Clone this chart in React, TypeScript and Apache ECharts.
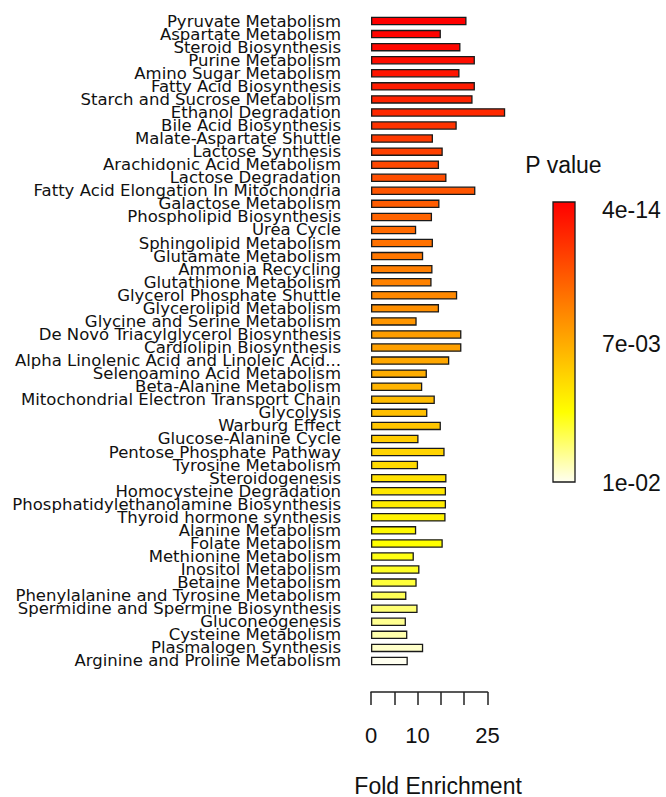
import React, { useEffect, useRef } from 'react';
import * as echarts from 'echarts';

const CATEGORIES = [
  'Pyruvate Metabolism',
  'Aspartate Metabolism',
  'Steroid Biosynthesis',
  'Purine Metabolism',
  'Amino Sugar Metabolism',
  'Fatty Acid Biosynthesis',
  'Starch and Sucrose Metabolism',
  'Ethanol Degradation',
  'Bile Acid Biosynthesis',
  'Malate-Aspartate Shuttle',
  'Lactose Synthesis',
  'Arachidonic Acid Metabolism',
  'Lactose Degradation',
  'Fatty Acid Elongation In Mitochondria',
  'Galactose Metabolism',
  'Phospholipid Biosynthesis',
  'Urea Cycle',
  'Sphingolipid Metabolism',
  'Glutamate Metabolism',
  'Ammonia Recycling',
  'Glutathione Metabolism',
  'Glycerol Phosphate Shuttle',
  'Glycerolipid Metabolism',
  'Glycine and Serine Metabolism',
  'De Novo Triacylglycerol Biosynthesis',
  'Cardiolipin Biosynthesis',
  'Alpha Linolenic Acid and Linoleic Acid...',
  'Selenoamino Acid Metabolism',
  'Beta-Alanine Metabolism',
  'Mitochondrial Electron Transport Chain',
  'Glycolysis',
  'Warburg Effect',
  'Glucose-Alanine Cycle',
  'Pentose Phosphate Pathway',
  'Tyrosine Metabolism',
  'Steroidogenesis',
  'Homocysteine Degradation',
  'Phosphatidylethanolamine Biosynthesis',
  'Thyroid hormone synthesis',
  'Alanine Metabolism',
  'Folate Metabolism',
  'Methionine Metabolism',
  'Inositol Metabolism',
  'Betaine Metabolism',
  'Phenylalanine and Tyrosine Metabolism',
  'Spermidine and Spermine Biosynthesis',
  'Gluconeogenesis',
  'Cysteine Metabolism',
  'Plasmalogen Synthesis',
  'Arginine and Proline Metabolism',
];

const FOLD_ENRICHMENT = [
  20.5, 15.0, 19.2, 22.3, 19.0, 22.3, 21.8, 28.8, 18.4, 13.3,
  15.4, 14.6, 16.2, 22.4, 14.7, 13.1, 9.7, 13.3, 11.2, 13.2,
  13.0, 18.5, 14.6, 9.8, 19.4, 19.4, 16.8, 12.0, 11.0, 13.7,
  12.1, 15.0, 10.2, 15.8, 10.1, 16.2, 16.1, 16.1, 16.0, 9.7,
  15.4, 9.2, 10.4, 9.8, 7.6, 10.0, 7.5, 7.8, 11.2, 7.9,
];

const P_VALUES = [
  4e-14, 1e-4, 2e-4, 4e-4, 6e-4, 8e-4, 1.0e-3, 1.2e-3, 1.5e-3, 1.7e-3,
  1.9e-3, 2.1e-3, 2.3e-3, 2.5e-3, 2.7e-3, 2.9e-3, 3.1e-3, 3.3e-3, 3.5e-3, 3.7e-3,
  3.8e-3, 4.0e-3, 4.2e-3, 4.4e-3, 4.6e-3, 4.7e-3, 4.9e-3, 5.1e-3, 5.3e-3, 5.5e-3,
  5.6e-3, 5.8e-3, 6.0e-3, 6.2e-3, 6.4e-3, 6.6e-3, 6.8e-3, 6.9e-3, 7.1e-3, 7.3e-3,
  7.5e-3, 7.7e-3, 7.9e-3, 8.1e-3, 8.4e-3, 8.7e-3, 9.0e-3, 9.3e-3, 9.6e-3, 1.0e-2,
];

const X_TICK_LABELS = ['0', '10', '25'];
const LEGEND_TITLE = 'P value';
const LEGEND_LABELS = ['4e-14', '7e-03', '1e-02'];
const P_MIN = 4e-14;
const P_MAX = 1e-2;
const HEAT_COLORS = [
  '#FF0000', '#FF2A00', '#FF5500', '#FF8000', '#FFAA00',
  '#FFD500', '#FFFF00', '#FFFF78', '#FFFFF0',
];

export default function App() {
  const ref = useRef<HTMLDivElement>(null);

  useEffect(() => {
    document.body.style.margin = '0';
    const chart = echarts.init(ref.current as HTMLDivElement, null, { renderer: 'svg' });
    const data = CATEGORIES.map((c, i) => [FOLD_ENRICHMENT[i], c, P_VALUES[i]]);
    const textColor = '#111';

    const option: any = {
      animation: false,
      textStyle: { fontFamily: 'Liberation Sans, Arial, sans-serif' },
      grid: [
        { left: 371, top: 14.5, width: 134.2, height: 653, outerBoundsMode: 'none', containLabel: false },
        { left: 371, top: 691, width: 116.5, height: 1, outerBoundsMode: 'none', containLabel: false },
      ],
      xAxis: [
        {
          gridIndex: 0,
          type: 'value',
          min: 0,
          max: 'dataMax',
          axisLine: { show: false },
          axisTick: { show: false },
          axisLabel: { show: false },
          splitLine: { show: false },
          name: 'Fold Enrichment',
          nameLocation: 'middle',
          nameGap: 107,
          nameTextStyle: { fontSize: 23, color: textColor },
        },
        {
          gridIndex: 1,
          type: 'value',
          min: 0,
          max: 25,
          interval: 5,
          axisLine: { lineStyle: { color: '#222', width: 1.5 } },
          axisTick: { length: 13, lineStyle: { color: '#222', width: 1.5 } },
          axisLabel: {
            fontSize: 22,
            color: textColor,
            margin: 32,
            formatter: (v: number) => (X_TICK_LABELS.includes(String(v)) ? String(v) : ''),
          },
          splitLine: { show: false },
        },
      ],
      yAxis: [
        {
          gridIndex: 0,
          type: 'category',
          data: CATEGORIES,
          inverse: true,
          axisLine: { show: false },
          axisTick: { show: false },
          axisLabel: {
            interval: 0,
            margin: 30,
            fontSize: 16.5,
            fontFamily: 'DejaVu Sans',
            color: textColor,
          },
        },
        { gridIndex: 1, type: 'value', show: false, min: 0, max: 1 },
      ],
      visualMap: {
        show: false,
        type: 'continuous',
        min: P_MIN,
        max: P_MAX,
        dimension: 2,
        seriesIndex: 0,
        inRange: { color: HEAT_COLORS },
      },
      series: [
        {
          type: 'bar',
          xAxisIndex: 0,
          yAxisIndex: 0,
          data,
          encode: { x: 0, y: 1 },
          barWidth: 8.5,
          itemStyle: { borderColor: '#1a1a1a', borderWidth: 1.3 },
        },
      ],
      graphic: [
        {
          type: 'text',
          x: 563.5,
          y: 165,
          style: {
            text: LEGEND_TITLE,
            fontSize: 23,
            fontFamily: 'Liberation Sans, Arial, sans-serif',
            fill: textColor,
            align: 'center',
            verticalAlign: 'middle',
          },
        },
        {
          type: 'rect',
          shape: { x: 553, y: 202, width: 22, height: 280 },
          style: {
            fill: {
              type: 'linear',
              x: 0,
              y: 0,
              x2: 0,
              y2: 1,
              colorStops: HEAT_COLORS.map((c, i) => ({ offset: i / (HEAT_COLORS.length - 1), color: c })),
            },
            stroke: '#1a1a1a',
            lineWidth: 1.3,
          },
        },
        ...LEGEND_LABELS.map((t, i) => ({
          type: 'text',
          x: 602,
          y: [210, 344, 483][i],
          style: {
            text: t,
            fontSize: 23,
            fontFamily: 'Liberation Sans, Arial, sans-serif',
            fill: textColor,
            align: 'left',
            verticalAlign: 'middle',
          },
        })),
      ],
    };

    chart.setOption(option);
    return () => chart.dispose();
  }, []);

  return <div ref={ref} style={{ width: 666, height: 797 }} />;
}
